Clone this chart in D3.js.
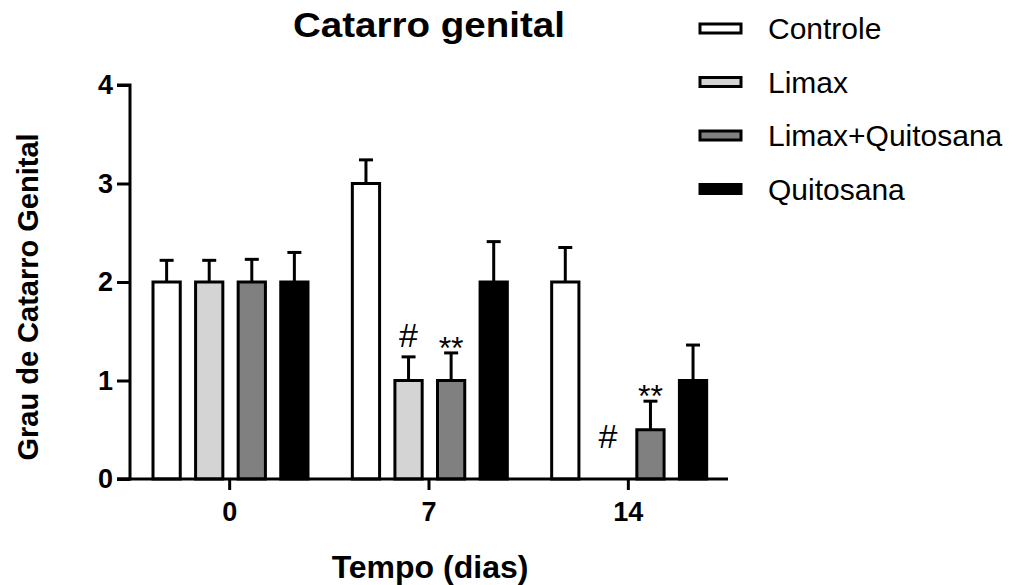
<!DOCTYPE html>
<html>
<head>
<meta charset="utf-8">
<script src="https://cdn.jsdelivr.net/npm/d3@7"></script>
<style>
  body { margin: 0; background: #fff; }
  text { font-family: "Liberation Sans", Arial, sans-serif; }
</style>
</head>
<body>
<div class="chart"></div>
<script>
var days = ["0", "7", "14"];
var groups = ["Controle", "Limax", "Limax+Quitosana", "Quitosana"];
var colors = ["#ffffff", "#d4d4d4", "#808080", "#000000"];
var means = [
  [2, 2, 2, 2],
  [3, 1, 1, 2],
  [2, 0, 0.5, 1]
];
var sems = [
  [0.22, 0.22, 0.23, 0.3],
  [0.24, 0.24, 0.28, 0.41],
  [0.35, 0, 0.29, 0.36]
];
// significance marks: [day index, group index, symbol]
var marks = [
  [1, 1, "#"], [1, 2, "**"],
  [2, 1, "#"], [2, 2, "**"]
];
var yTicks = [0, 1, 2, 3, 4];

var svgWidth = 1027, svgHeight = 585;
var margin = { top: 85, left: 130 };
var width = 598, height = 394;

var svg = d3.select(".chart").append("svg")
  .attr("width", svgWidth)
  .attr("height", svgHeight);

var chartGroup = svg.append("g")
  .attr("transform", `translate(${margin.left}, ${margin.top})`);

var x0 = d3.scaleBand().domain(days).range([0, width]);
var x1 = d3.scaleBand().domain(groups).range([23, 178]).paddingInner(0.36);
var y = d3.scaleLinear().domain([0, 4]).range([height, 0]);

// bars
var dayG = chartGroup.selectAll(".day")
  .data(days)
  .enter().append("g")
  .attr("transform", d => `translate(${x0(d)}, 0)`);

dayG.each(function(day, i) {
  var g = d3.select(this);
  groups.forEach(function(grp, j) {
    var v = means[i][j];
    if (v <= 0) return;
    var bx = x1(grp), bw = x1.bandwidth();
    var cx = bx + bw / 2;
    var top = y(v + sems[i][j]);
    g.append("line")
      .attr("x1", cx).attr("x2", cx)
      .attr("y1", y(v)).attr("y2", top)
      .attr("stroke", "#000").attr("stroke-width", 3);
    g.append("line")
      .attr("x1", cx - 7).attr("x2", cx + 7)
      .attr("y1", top).attr("y2", top)
      .attr("stroke", "#000").attr("stroke-width", 3);
    g.append("rect")
      .attr("x", bx).attr("y", y(v))
      .attr("width", bw).attr("height", height - y(v))
      .attr("fill", colors[j])
      .attr("stroke", "#000").attr("stroke-width", 3);
  });
});

// significance symbols
marks.forEach(function(m) {
  var i = m[0], j = m[1];
  var cx = x0(days[i]) + x1(groups[j]) + x1.bandwidth() / 2;
  var v = means[i][j], e = sems[i][j];
  var star = m[2] === "**";
  var ty;
  if (star) ty = y(v + e) + 6;          // asterisks sit high in the em box
  else if (v > 0) ty = y(v + e) - 10;
  else ty = y(0.31);
  chartGroup.append("text")
    .attr("x", cx)
    .attr("y", ty)
    .attr("text-anchor", "middle")
    .style("font-size", star ? "32px" : "34px")
    .text(m[2]);
});

// axes
var leftAxis = d3.axisLeft(y).tickValues(yTicks).tickSize(13).tickPadding(4).tickFormat(d3.format("d"));
var bottomAxis = d3.axisBottom(x0).tickSize(11).tickPadding(12);

var yAxisG = chartGroup.append("g").call(leftAxis);
var xAxisG = chartGroup.append("g")
  .attr("transform", `translate(0, ${height})`)
  .call(bottomAxis);

[yAxisG, xAxisG].forEach(function(a) {
  a.select(".domain").attr("stroke", "#000").attr("stroke-width", 3);
  a.selectAll(".tick line").attr("stroke", "#000").attr("stroke-width", 3);
  a.selectAll(".tick text")
    .attr("fill", "#000")
    .style("font-size", "27px")
    .style("font-weight", "bold")
    .style("font-family", "Liberation Sans, Arial, sans-serif");
});
yAxisG.select(".domain").attr("d", `M-13,${height}H0V0H-13`);
xAxisG.select(".domain").attr("d", `M-13,0H${width}`);

// titles
svg.append("text")
  .attr("x", 429).attr("y", 37)
  .attr("text-anchor", "middle")
  .attr("textLength", 272).attr("lengthAdjust", "spacingAndGlyphs")
  .style("font-size", "35px").style("font-weight", "bold")
  .text("Catarro genital");

svg.append("text")
  .attr("x", 430).attr("y", 578)
  .attr("text-anchor", "middle")
  .style("font-size", "32px").style("font-weight", "bold")
  .text("Tempo (dias)");

svg.append("text")
  .attr("transform", "rotate(-90)")
  .attr("x", -297).attr("y", 38)
  .attr("text-anchor", "middle")
  .style("font-size", "29px").style("font-weight", "bold")
  .text("Grau de Catarro Genital");

// legend
var legend = svg.selectAll(".legend")
  .data(groups)
  .enter().append("g")
  .attr("transform", (d, i) => `translate(700, ${24 + i * 53.5})`);

legend.append("rect")
  .attr("x", 0).attr("y", 0)
  .attr("width", 41).attr("height", 9)
  .attr("fill", (d, i) => colors[i])
  .attr("stroke", "#000").attr("stroke-width", 3);

legend.append("text")
  .attr("x", 68).attr("y", 15)
  .style("font-size", "30px")
  .text(d => d);
</script>
</body>
</html>
